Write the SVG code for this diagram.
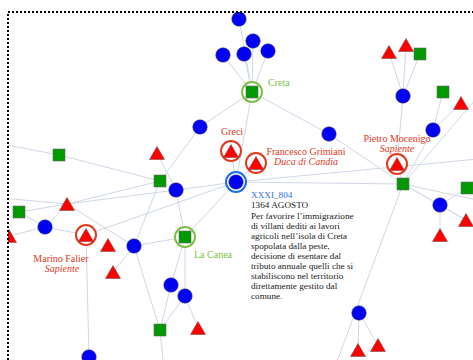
<svg xmlns="http://www.w3.org/2000/svg" xmlns:xlink="http://www.w3.org/1999/xlink" width="473" height="360" viewBox="0 0 473 360">
<style>
.e{stroke:#cfd7e6;stroke-width:1;fill:none}
.b{fill:#0000f5;stroke:#555;stroke-width:0.5}
.g{fill:#009900;stroke:#6a6a6a;stroke-width:0.6}
.t{fill:#f00;stroke:#7a5050;stroke-width:0.6}
.rr{fill:#fff;stroke:#e2391d;stroke-width:2}
.gr{fill:#fff;stroke:#7dbf44;stroke-width:2}
.br{fill:#fff;stroke:#1c6fe6;stroke-width:2}
.lbl{font-family:"Liberation Serif",serif;font-size:10px}
.red{fill:#e2391d}
.grn{fill:#7dbf44}
.it{font-style:italic}
.txt{font-family:"Liberation Serif",serif;font-size:9.2px;fill:#1a1a1a}
</style>
<defs>
<circle id="B" r="7.3" class="b"/>
<rect id="G" x="-6" y="-6" width="12" height="12" class="g"/>
<polygon id="T" points="0,-6.5 7.5,6.5 -7.5,6.5" class="t"/>
<clipPath id="frame"><rect x="8" y="12" width="600" height="400"/></clipPath>
</defs>
<rect width="473" height="360" fill="#fff"/>
<g clip-path="url(#frame)">
<g id="connectors">
<path class="e" d="M252,92L239,19M252,92L223,55M252,92L253,41M252,92L244,54M252,92L268,51M252,92L200,127M252,92L329,134M252,92L236,182"/>
<path class="e" d="M231,151L236,182M256,163L236,182M236,182L520,155M236,182L403,184M236,182L176,190M236,182L185,237M236,182L86,235"/>
<path class="e" d="M329,134L403,184M397,164L403,96M397,164L403,184M403,96L389,52M403,96L406,45M403,96L420,54M433,130L443,92M433,130L461,103M433,130L403,184M500,71L403,184"/>
<path class="e" d="M403,184L440,205M403,184L466,220M403,184L500,205M403,184L330,380M440,205L467,188M440,205L440,235M440,205L466,220M359,313L358,350M359,313L378,345"/>
<path class="e" d="M200,127L160,181M157,153L176,190M59,155L-40,136M59,155L160,181M160,181L134,246M176,190L185,237M185,237L134,246M185,237L171,285M185,237L185,296M134,246L113,272M134,246L160,330M171,285L160,330M185,296L160,330M185,296L198,328M160,330L165,380"/>
<path class="e" d="M-20,196L67,204M67,204L160,181M67,204L176,190M67,204L19,212M67,204L45,227M67,204L134,246M19,212L45,227M45,227L9,236M45,227L86,235M86,235L89,357"/>
</g>
<g id="n-top1"><use xlink:href="#B" x="239" y="19"/></g>
<g id="n-top2"><use xlink:href="#B" x="223" y="55"/></g>
<g id="n-top3"><use xlink:href="#B" x="253" y="41"/></g>
<g id="n-top4"><use xlink:href="#B" x="244" y="54"/></g>
<g id="n-top5"><use xlink:href="#B" x="268" y="51"/></g>
<g id="n-creta"><circle cx="252" cy="92" r="10" class="gr"/><use xlink:href="#G" x="252" y="92"/><text class="lbl grn" x="268" y="86">Creta</text></g>
<g id="n-b200"><use xlink:href="#B" x="200" y="127"/></g>
<g id="n-greci"><circle cx="231" cy="151" r="10" class="rr"/><use xlink:href="#T" x="231" y="151"/><text class="lbl red" x="232" y="135" text-anchor="middle">Greci</text></g>
<g id="n-grimiani"><circle cx="256" cy="163" r="10" class="rr"/><use xlink:href="#T" x="256" y="163"/><text class="lbl red" x="306" y="155" text-anchor="middle">Francesco Grimiani</text><text class="lbl red it" x="306" y="165" text-anchor="middle">Duca di Candia</text></g>
<g id="n-xxxi"><circle cx="236" cy="182" r="10" class="br"/><use xlink:href="#B" x="236" y="182"/></g>
<g id="n-b329"><use xlink:href="#B" x="329" y="134"/></g>
<g id="n-b403"><use xlink:href="#B" x="403" y="96"/></g>
<g id="n-t389"><use xlink:href="#T" x="389" y="52"/></g>
<g id="n-t406"><use xlink:href="#T" x="406" y="45"/></g>
<g id="n-g420"><use xlink:href="#G" x="420" y="54"/></g>
<g id="n-g443"><use xlink:href="#G" x="443" y="92"/></g>
<g id="n-t461"><use xlink:href="#T" x="461" y="103"/></g>
<g id="n-b433"><use xlink:href="#B" x="433" y="130"/></g>
<g id="n-pietro"><circle cx="397" cy="164" r="10" class="rr"/><use xlink:href="#T" x="397" y="164"/><text class="lbl red" x="397" y="142" text-anchor="middle">Pietro Mocenigo</text><text class="lbl red it" x="397" y="152" text-anchor="middle">Sapiente</text></g>
<g id="n-g403"><use xlink:href="#G" x="403" y="184"/></g>
<g id="n-g467"><use xlink:href="#G" x="467" y="188"/></g>
<g id="n-b440"><use xlink:href="#B" x="440" y="205"/></g>
<g id="n-t466"><use xlink:href="#T" x="466" y="220"/></g>
<g id="n-t440"><use xlink:href="#T" x="440" y="235"/></g>
<g id="n-b359"><use xlink:href="#B" x="359" y="313"/></g>
<g id="n-t358"><use xlink:href="#T" x="358" y="350"/></g>
<g id="n-t378"><use xlink:href="#T" x="378" y="345"/></g>
<g id="n-g59"><use xlink:href="#G" x="59" y="155"/></g>
<g id="n-t157"><use xlink:href="#T" x="157" y="153"/></g>
<g id="n-g160"><use xlink:href="#G" x="160" y="181"/></g>
<g id="n-b176"><use xlink:href="#B" x="176" y="190"/></g>
<g id="n-t67"><use xlink:href="#T" x="67" y="204"/></g>
<g id="n-g19"><use xlink:href="#G" x="19" y="212"/></g>
<g id="n-b45"><use xlink:href="#B" x="45" y="227"/></g>
<g id="n-t9"><use xlink:href="#T" x="9" y="236"/></g>
<g id="n-marino"><circle cx="86" cy="235" r="10" class="rr"/><use xlink:href="#T" x="86" y="235"/><text class="lbl red" x="61" y="262" text-anchor="middle">Marino Falier</text><text class="lbl red it" x="62" y="272" text-anchor="middle">Sapiente</text></g>
<g id="n-t108"><use xlink:href="#T" x="108" y="245"/></g>
<g id="n-b134"><use xlink:href="#B" x="134" y="246"/></g>
<g id="n-t113"><use xlink:href="#T" x="113" y="272"/></g>
<g id="n-lacanea"><circle cx="185" cy="237" r="10" class="gr"/><use xlink:href="#G" x="185" y="237"/><text class="lbl grn" x="194" y="258">La Canea</text></g>
<g id="n-b171"><use xlink:href="#B" x="171" y="285"/></g>
<g id="n-b185"><use xlink:href="#B" x="185" y="296"/></g>
<g id="n-g160b"><use xlink:href="#G" x="160" y="330"/></g>
<g id="n-t198"><use xlink:href="#T" x="198" y="328"/></g>
<g id="n-b89"><use xlink:href="#B" x="89" y="357"/></g>
<g id="info">
<text class="txt" x="251" y="198" style="fill:#2a6ee8">XXXI_804</text>
<text class="txt" x="251" y="208.3">1364 AGOSTO</text>
<text class="txt" x="251" y="218.5">Per favorire l’immigrazione</text>
<text class="txt" x="251" y="228.6">di villani dediti ai lavori</text>
<text class="txt" x="251" y="238.7">agricoli nell’isola di Creta</text>
<text class="txt" x="251" y="248.8">spopolata dalla peste,</text>
<text class="txt" x="251" y="258.9">decisione di esentare dal</text>
<text class="txt" x="251" y="269">tributo annuale quelli che si</text>
<text class="txt" x="251" y="279.1">stabiliscono nel territorio</text>
<text class="txt" x="251" y="289.2">direttamente gestito dal</text>
<text class="txt" x="251" y="299.3">comune.</text>
</g>
</g>
<rect x="8" y="12" width="600" height="400" fill="none" stroke="#000" stroke-width="2" stroke-dasharray="2 2"/>
</svg>
